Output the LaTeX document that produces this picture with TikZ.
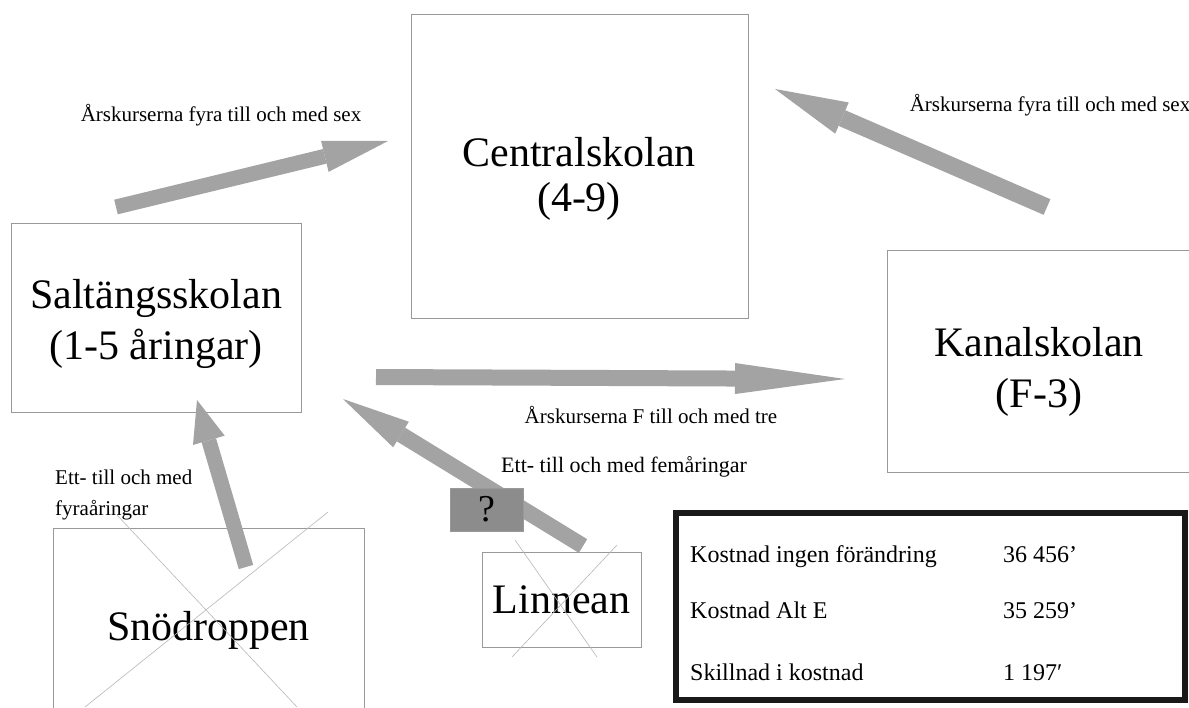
\documentclass[tikz,border=0pt]{standalone}
\usepackage{fontspec}
\setmainfont{Liberation Serif}
\usetikzlibrary{arrows.meta}
\definecolor{pilgrau}{gray}{0.64}
\definecolor{fragegrau}{gray}{0.55}
\definecolor{rahmengrau}{gray}{0.6}
\definecolor{kreuzgrau}{gray}{0.72}

\begin{document}
\begin{tikzpicture}
		[
		x=1pt, y=-1pt, font=\fontsize{21}{31}\selectfont,
		%Voreinstellungen
		schule/.style={draw=rahmengrau, line width=0.8pt, fill=white, inner sep=0pt},
		gross/.style={font=\fontsize{42}{51}\selectfont, align=center, inner sep=0pt},
		klein/.style={font=\fontsize{21}{31}\selectfont, inner sep=0pt},
		tabelle/.style={font=\fontsize{24}{29}\selectfont, inner sep=0pt, anchor=base west},
		pfeil/.style n args={3}{draw=pilgrau, line width=#1, -{Triangle[length=#2, width=#3, line width=0pt]}},
		kreuz/.style={draw=kreuzgrau, line width=0.6pt}
		]
		
		%Hintergrund
		\useasboundingbox (0,0) rectangle (1189,707);
		\fill [white] (0,0) rectangle (1189,707);
		
		%Schulen
		\node [schule, minimum width=337pt, minimum height=304pt] (central) at (579.5,166) {};
		\node [gross, font=\fontsize{42}{45}\selectfont] (central-name) at (579,179) {Centralskolan\\(4-9)};
		\node [schule, minimum width=290pt, minimum height=189pt] (saltang) at (156.5,317.5) {};
		\node [gross] (saltang-name) at (156,324) {Saltängsskolan\\(1-5 åringar)};
		\node [schule, minimum width=310pt, minimum height=222pt] (kanal) at (1042,361) {};
		\node [gross] (kanal-name) at (1039,372) {Kanalskolan\\(F-3)};
		\node [schule, gross, minimum width=311pt, minimum height=204pt] (snodroppen) at (208.5,630) {Snödroppen};
		\node [schule, gross, minimum width=159pt, minimum height=95pt] (linnean) at (561.5,599.5) {Linnean};
		
		%Kreuze
		\draw [kreuz] (117,515) -- (297,707);
		\draw [kreuz] (328,512) -- (85,707);
		\draw [kreuz] (515,540) -- (597,657);
		\draw [kreuz] (617,545) -- (512,657);
		
		%Pfeile
		\coordinate (p1a) at (116,207);
		\coordinate (p1b) at (388,141);
		\coordinate (p2a) at (1047,207);
		\coordinate (p2b) at (775,89);
		\coordinate (p3a) at (376,377);
		\coordinate (p3b) at (845,379);
		\coordinate (p4a) at (246,567);
		\coordinate (p4b) at (197,400);
		\coordinate (p5a) at (583,546);
		\coordinate (p5b) at (343,399);
		\draw [pfeil={15pt}{65pt}{32pt}] (p1a) -- (p1b);
		\draw [pfeil={17pt}{73pt}{34pt}] (p2a) -- (p2b);
		\draw [pfeil={16pt}{110pt}{31pt}] (p3a) -- (p3b);
		\draw [pfeil={15pt}{42pt}{33pt}] (p4a) -- (p4b);
		\draw [pfeil={16pt}{68pt}{30pt}] (p5a) -- (p5b);
		\node [draw=rahmengrau, fill=fragegrau, line width=0.6pt, minimum width=73pt, minimum height=43pt, inner sep=0pt, font=\fontsize{38}{38}\selectfont] (frage) at (486.5,509.5) {?};
		
		%Beschriftungen
		\node [klein] (text-links) at (221,115) {Årskurserna fyra till och med sex};
		\node [klein] (text-rechts) at (1050,105) {Årskurserna fyra till och med sex};
		\node [klein] (text-kanal) at (651,415) {Årskurserna F till och med tre};
		\node [klein, font=\fontsize{22}{31}\selectfont] (text-linnean) at (624,467) {Ett- till och med femåringar};
		\node [klein, align=left, anchor=base west] (text-snodroppen) at (55,515) {Ett- till och med\\fyraåringar};
		
		%Kostnaden
		\node [draw=black!90, line width=6pt, minimum width=509pt, minimum height=187pt, inner sep=0pt] (kosten) at (930.5,606.5) {};
		\foreach \zeile/\posten/\betrag/\y in {a/Kostnad ingen förändring/36 456’/562, b/Kostnad Alt E/35 259’/618, c/Skillnad i kostnad/1 197′/680}
		{
		\node [tabelle] (posten-\zeile) at (690,\y) {\posten};
		\node [tabelle] (betrag-\zeile) at (1003,\y) {\betrag};
		}
	\end{tikzpicture}
\end{document}
